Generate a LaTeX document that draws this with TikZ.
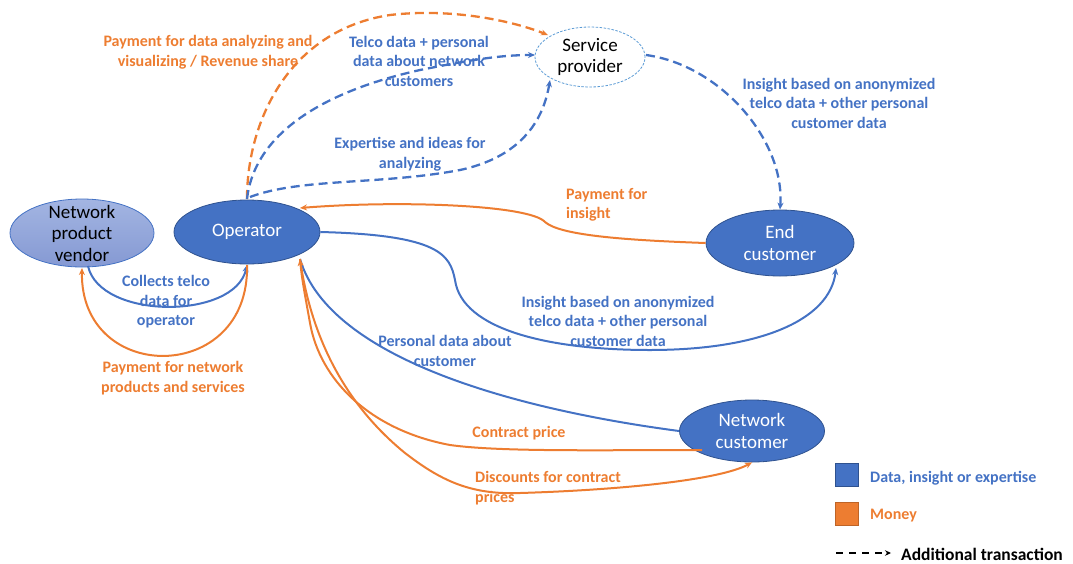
\documentclass[tikz,border=0pt]{standalone}
\usepackage{fontspec}
\setmainfont{Carlito}
\usetikzlibrary{arrows.meta,shapes.geometric}
\definecolor{dblue}{HTML}{4472C4}
\definecolor{dorange}{HTML}{ED7D31}
\definecolor{edgeblue}{HTML}{2F528F}
\definecolor{lblue}{HTML}{5B9BD5}
\definecolor{vendtop}{HTML}{A3B5E2}
\definecolor{vendbot}{HTML}{8599D3}
\begin{document}
\begin{tikzpicture}[x=1pt,y=-1pt,
  actor/.style={ellipse, draw=edgeblue, line width=0.8pt, fill=dblue,
    inner sep=0pt, minimum width=146pt, minimum height=64pt},
  actortext/.style={text=white, font=\fontsize{19}{21.5}\selectfont, align=center},
  blacktext/.style={text=black, font=\fontsize{19}{21.5}\selectfont, align=center},
  bluelbl/.style={text=dblue, font=\bfseries\fontsize{16}{19.5}\selectfont, align=center, inner sep=0pt},
  orangelbl/.style={text=dorange, font=\bfseries\fontsize{16}{19.5}\selectfont, align=center, inner sep=0pt},
  flow/.style={line width=2pt, -{Stealth[length=7pt,width=6pt]}},
  extraflow/.style={flow, line width=2.3pt, dash pattern=on 9pt off 5pt},
  plain/.style={line width=2pt},
]
\useasboundingbox (0,0) rectangle (1073,563);

% actors
\node[ellipse, draw=dblue, line width=0.8pt, top color=vendtop, bottom color=vendbot,
      inner sep=0pt, minimum width=144pt, minimum height=68pt] (vendor) at (82,233) {};
\node[blacktext] (vendor-t) at (vendor) {Network\\product\\vendor};
\node[actor] (op) at (247,232) {};
\node[actortext] (op-t) at (op) {Operator};
\node[ellipse, draw=lblue, line width=0.8pt, dash pattern=on 2.5pt off 1.5pt, fill=white,
      inner sep=0pt, minimum width=110pt, minimum height=60pt] (sp) at (590,57) {};
\node[blacktext] (sp-t) at (sp) {Service\\provider};
\node[actor, minimum width=148pt, minimum height=66pt] (ec) at (780,243) {};
\node[actortext] (ec-t) at (ec) {End\\customer};
\node[actor, minimum width=145pt, minimum height=62pt] (nc) at (752,431) {};
\node[actortext] (nc-t) at (nc) {Network\\customer};

% anchor points on the actors
\coordinate (op-n) at (247,199);
\coordinate (op-ne) at (300,208);
\coordinate (op-se) at (300,259);
\coordinate (op-s) at (247,265);

% vendor <-> operator
\draw[flow, dblue] (88,266) .. controls (100,320) and (235,320) .. (op-s);
\draw[flow, dorange] (op-s) .. controls (250,385) and (80,385) .. (82,268);

% additional transactions with the service provider
\draw[extraflow, dorange] (op-n) .. controls (247,120) and (290,30) .. (390,15)
  .. controls (450,8) and (510,20) .. (548,35);
\draw[extraflow, dblue] (op-n) .. controls (255,130) and (330,90) .. (420,70)
  .. controls (470,60) and (500,55) .. (535,55);
\draw[extraflow, dblue] (250,197) .. controls (300,178) and (380,185) .. (460,170)
  .. controls (530,155) and (545,110) .. (550,80);
\draw[extraflow, dblue] (646,55) .. controls (720,65) and (785,140) .. (ec.north);

% end customer <-> operator
\draw[flow, dorange] (ec.west) .. controls (620,240) and (560,235) .. (545,222)
  .. controls (530,205) and (400,200) .. (op-ne);
\draw[flow, dblue] (op.east) .. controls (440,235) and (450,255) .. (455,280)
  .. controls (462,330) and (550,350) .. (650,350)
  .. controls (760,350) and (830,320) .. (836,268);

% network customer <-> operator
\draw[plain, dblue] (nc.west) .. controls (520,410) and (330,360) .. (op-se);
\draw[flow, dorange] (702,450) .. controls (600,450) and (500,452) .. (450,445)
  .. controls (370,430) and (320,380) .. (310,323)
  .. controls (305,295) and (302,280) .. (op-se);
\draw[flow, dorange] (op-se) .. controls (310,330) and (340,400) .. (405,453)
  .. controls (440,480) and (470,495) .. (520,493)
  .. controls (620,490) and (720,480) .. (nc.south);

% labels
\node[orangelbl] (l-payda) at (208,52) {Payment for data analyzing and\\visualizing / Revenue share};
\node[bluelbl] (l-telco) at (419,61) {Telco data + personal\\data about network\\customers};
\node[bluelbl] (l-exp) at (410,154) {Expertise and ideas for\\analyzing};
\node[bluelbl] (l-ins1) at (839,103) {Insight based on anonymized\\telco data + other personal\\customer data};
\node[orangelbl, anchor=west, align=left] (l-payins) at (566,205) {Payment for\\insight};
\node[bluelbl] (l-collect) at (166,302) {Collects telco\\data for\\operator};
\node[orangelbl] (l-paynet) at (173,378) {Payment for network\\products and services};
\node[bluelbl] (l-ins2) at (618,321) {Insight based on anonymized\\telco data + other personal\\customer data};
\node[bluelbl] (l-pers) at (445,351) {Personal data about\\customer};
\node[orangelbl] (l-contract) at (519,433) {Contract price};
\node[orangelbl, anchor=west, align=left] (l-disc) at (475,488) {Discounts for contract\\prices};

% legend
\node[draw=edgeblue, line width=0.6pt, fill=dblue, minimum size=23pt, inner sep=0pt] (key-blue) at (846.5,475) {};
\node[bluelbl, anchor=west] (key-blue-t) at (870,478) {Data, insight or expertise};
\node[draw=dorange!80!black, line width=0.6pt, fill=dorange, minimum size=23pt, inner sep=0pt] (key-orange) at (846.5,514) {};
\node[orangelbl, anchor=west] (key-orange-t) at (870,516) {Money};
\coordinate (key-a) at (836,553);
\coordinate (key-b) at (891,553);
\draw[line width=1.8pt, dash pattern=on 7pt off 6pt, -{Stealth[length=6pt,width=5.5pt]}] (key-a) -- (key-b);
\node[anchor=west, font=\bfseries\fontsize{17.5}{20}\selectfont, inner sep=0pt] (key-dash-t) at (901,554) {Additional transaction};
\end{tikzpicture}
\end{document}
